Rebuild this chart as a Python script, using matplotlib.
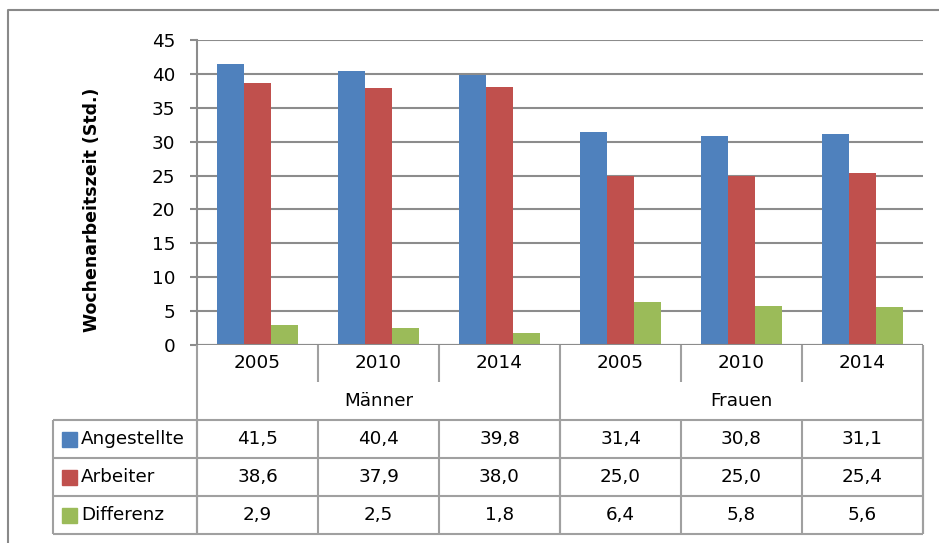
import matplotlib
matplotlib.use("Agg")
import matplotlib.pyplot as plt
import numpy as np

# ---- data ----
years = ["2005", "2010", "2014", "2005", "2010", "2014"]
groups = ["Männer", "Frauen"]
series_names = ["Angestellte", "Arbeiter", "Differenz"]
angestellte = [41.5, 40.4, 39.8, 31.4, 30.8, 31.1]
arbeiter = [38.6, 37.9, 38.0, 25.0, 25.0, 25.4]
differenz = [2.9, 2.5, 1.8, 6.4, 5.8, 5.6]
yticks = [0, 5, 10, 15, 20, 25, 30, 35, 40, 45]
ylabel = "Wochenarbeitszeit (Std.)"

colors = ["#4F81BD", "#C0504D", "#9BBB59"]
grid_c = "#8C8C8C"
tab_c = "#A0A0A0"

plt.rcParams['font.family'] = ['DejaVu Sans']
FS = 13.2

W, H = 939, 543
fig = plt.figure(figsize=(W / 100, H / 100), dpi=100)

# plot area in pixel coordinates
L, R, T, B = 197, 923, 40, 345
ax = fig.add_axes([L / W, 1 - B / H, (R - L) / W, (B - T) / H])
n = len(years)
x = np.arange(n) + 0.5
bw = 1 / 4.5
for k, (vals, c) in enumerate(zip([angestellte, arbeiter, differenz], colors)):
    ax.bar(x + (k - 1) * bw, vals, width=bw, color=c, edgecolor="none", zorder=3)
ax.set_xlim(0, n)
ax.set_ylim(0, 45)
ax.set_yticks(yticks)
ax.set_yticklabels([str(t) for t in yticks], fontsize=FS)
ax.set_xticks([])
ax.grid(axis="y", color=grid_c, lw=1.5, zorder=0)
for s in ["top", "right", "bottom"]:
    ax.spines[s].set_visible(False)
ax.spines["left"].set_color(grid_c)
ax.spines["left"].set_linewidth(1.5)
ax.tick_params(axis="y", length=5, width=1.5, color=grid_c, pad=10.5)
ax.axhline(0, color=grid_c, lw=1.5, zorder=4)

# overlay axes in pixel coordinates for table & border
ov = fig.add_axes([0, 0, 1, 1], zorder=-1)
ov.set_xlim(0, W)
ov.set_ylim(H, 0)
ov.axis("off")
ov.patch.set_alpha(0)

ov2 = fig.add_axes([0, 0, 1, 1], zorder=5)
ov2.set_xlim(0, W)
ov2.set_ylim(H, 0)
ov2.axis("off")
ov2.patch.set_alpha(0)

ov2.text(92, 210, ylabel, rotation=90, ha="center", va="center",
         fontsize=12.5, fontweight="bold")

# outer border
ov.plot([8, 8, W], [H, 10, 10], color="#898989", lw=1.5)

colw = (R - L) / n
edges = [L + i * colw for i in range(n + 1)]
LEG = 53
rows_y = [420, 458, 496, 534]
lw = 1.5

def line(xs, ys):
    ov2.plot(xs, ys, color=tab_c, lw=lw, solid_capstyle="butt")

# year row separators
for i in range(1, n):
    if i == n // 2:
        continue
    line([edges[i], edges[i]], [B, 382])
line([edges[0], edges[0]], [B, rows_y[-1]])
line([edges[-1], edges[-1]], [B, rows_y[-1]])
line([edges[n // 2], edges[n // 2]], [B, rows_y[-1]])
# data rows
for y in rows_y:
    line([LEG, R], [y, y])
for xe in [LEG] + edges:
    line([xe, xe], [rows_y[0], rows_y[-1]])

# year labels
for i, yr in enumerate(years):
    ov2.text((edges[i] + edges[i + 1]) / 2, 363, yr, ha="center", va="center", fontsize=FS)
# group labels
for g, name in enumerate(groups):
    xc = (edges[g * 3] + edges[g * 3 + 3]) / 2
    ov2.text(xc, 401, name, ha="center", va="center", fontsize=FS)

# data table values
for r, (name, vals, c) in enumerate(zip(series_names, [angestellte, arbeiter, differenz], colors)):
    yc = (rows_y[r] + rows_y[r + 1]) / 2
    ov2.add_patch(plt.Rectangle((62, yc - 7.5), 15, 15, color=c))
    ov2.text(81, yc, name, ha="left", va="center", fontsize=FS)
    for i, v in enumerate(vals):
        ov2.text((edges[i] + edges[i + 1]) / 2, yc, f"{v:.1f}".replace(".", ","),
                 ha="center", va="center", fontsize=FS)

fig.savefig("out.png", dpi=100)
